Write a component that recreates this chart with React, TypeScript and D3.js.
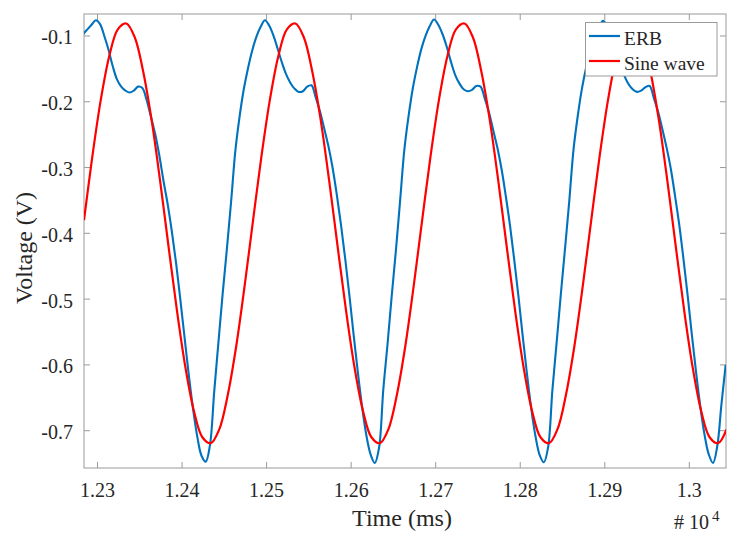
import React, { useRef, useEffect } from 'react';
import * as d3 from 'd3';

// ERB trace, sampled every 5 ms from 12283 ms
const erbStart = 12283;
const erbStep = 5;
const erbVolts = [
  -0.097, -0.090, -0.083, -0.076,
  -0.082, -0.100, -0.121, -0.146, -0.166, -0.177, -0.183, -0.186, -0.183, -0.177,
  -0.179, -0.197, -0.222, -0.248, -0.281, -0.320, -0.356, -0.398, -0.446, -0.501,
  -0.559, -0.616, -0.667, -0.709, -0.738, -0.747, -0.722, -0.641, -0.566, -0.492,
  -0.424, -0.352, -0.275, -0.223, -0.181, -0.149, -0.122, -0.101, -0.086, -0.076,
  -0.084, -0.099, -0.119, -0.140, -0.158, -0.171, -0.180, -0.185, -0.184, -0.177,
  -0.175, -0.193, -0.214, -0.240, -0.267, -0.300, -0.341, -0.387, -0.439, -0.495,
  -0.555, -0.612, -0.664, -0.707, -0.736, -0.749, -0.726, -0.638, -0.569, -0.495,
  -0.425, -0.349, -0.272, -0.221, -0.179, -0.147, -0.120, -0.100, -0.085, -0.075,
  -0.083, -0.097, -0.116, -0.139, -0.159, -0.172, -0.181, -0.184, -0.182, -0.176,
  -0.177, -0.195, -0.216, -0.243, -0.270, -0.303, -0.344, -0.389, -0.441, -0.497,
  -0.557, -0.614, -0.666, -0.708, -0.737, -0.748, -0.725, -0.639, -0.567, -0.493,
  -0.423, -0.351, -0.273, -0.222, -0.180, -0.148, -0.121, -0.101, -0.087, -0.077,
  -0.085, -0.099, -0.118, -0.141, -0.160, -0.173, -0.181, -0.185, -0.183, -0.178,
  -0.176, -0.194, -0.215, -0.241, -0.269, -0.301, -0.342, -0.386, -0.438, -0.494,
  -0.554, -0.611, -0.663, -0.706, -0.736, -0.749, -0.724, -0.660, -0.600,
];

// reference sine, sampled every 10 ms from 12284 ms
const sineStart = 12284;
const sineStep = 10;
const sineVolts = [
  -0.380, -0.282, -0.196, -0.130, -0.090, -0.081, -0.102, -0.154, -0.228, -0.320,
  -0.420, -0.518, -0.604, -0.670, -0.710, -0.719, -0.698, -0.646, -0.572, -0.480,
  -0.380, -0.282, -0.196, -0.130, -0.090, -0.081, -0.102, -0.154, -0.228, -0.320,
  -0.420, -0.518, -0.604, -0.670, -0.710, -0.719, -0.698, -0.646, -0.572, -0.480,
  -0.380, -0.282, -0.196, -0.130, -0.090, -0.081, -0.102, -0.154, -0.228, -0.320,
  -0.420, -0.518, -0.604, -0.670, -0.710, -0.719, -0.698, -0.646, -0.572, -0.480,
  -0.380, -0.282, -0.196, -0.130, -0.090, -0.081, -0.102, -0.154, -0.228, -0.320,
  -0.420, -0.518, -0.604, -0.670, -0.710, -0.719, -0.698,
];

const xTicks = [12300, 12400, 12500, 12600, 12700, 12800, 12900, 13000];
const yTicks = [-0.7, -0.6, -0.5, -0.4, -0.3, -0.2, -0.1];
const seriesNames = ['ERB', 'Sine wave'];
const seriesColors = ['#0072BD', '#FF0000'];

const App = () => {
  const svgRef = useRef<SVGSVGElement>(null);

  useEffect(() => {
    const svg = d3.select(svgRef.current);
    svg.selectAll('*').remove();

    const width = 741;
    const height = 540;
    const margin = { top: 14, right: 15, bottom: 72, left: 84 };
    const font = '"Liberation Serif", "Times New Roman", serif';
    const axisColor = '#9a9a9a';
    const textColor = '#262626';

    svg.attr('width', width).attr('height', height);

    const x = d3.scaleLinear()
      .domain([12284, 13043.4])
      .range([margin.left, width - margin.right]);

    const y = d3.scaleLinear()
      .domain([-0.7567, -0.0666])
      .range([height - margin.bottom, margin.top]);

    svg.append('defs').append('clipPath').attr('id', 'plot-clip')
      .append('rect')
      .attr('x', margin.left)
      .attr('y', margin.top)
      .attr('width', width - margin.left - margin.right)
      .attr('height', height - margin.top - margin.bottom);

    // box + inward ticks on all four sides
    const x0 = margin.left, x1 = width - margin.right;
    const y0 = margin.top, y1 = height - margin.bottom;
    const tick = 6;

    const frame = svg.append('g').attr('stroke', axisColor).attr('stroke-width', 1).attr('fill', 'none');
    frame.append('rect').attr('x', x0).attr('y', y0).attr('width', x1 - x0).attr('height', y1 - y0);

    xTicks.forEach(t => {
      frame.append('line').attr('x1', x(t)).attr('x2', x(t)).attr('y1', y1).attr('y2', y1 - tick);
      frame.append('line').attr('x1', x(t)).attr('x2', x(t)).attr('y1', y0).attr('y2', y0 + tick);
    });
    yTicks.forEach(v => {
      frame.append('line').attr('x1', x0).attr('x2', x0 + tick).attr('y1', y(v)).attr('y2', y(v));
      frame.append('line').attr('x1', x1).attr('x2', x1 - tick).attr('y1', y(v)).attr('y2', y(v));
    });

    // tick labels
    svg.append('g')
      .attr('font-family', font)
      .attr('font-size', 20)
      .attr('fill', textColor)
      .attr('text-anchor', 'middle')
      .selectAll('text')
      .data(xTicks)
      .join('text')
      .attr('x', d => x(d))
      .attr('y', y1 + 29)
      .text(d => String(+(d / 1e4).toFixed(2)));

    svg.append('g')
      .attr('font-family', font)
      .attr('font-size', 20)
      .attr('fill', textColor)
      .attr('text-anchor', 'end')
      .selectAll('text')
      .data(yTicks)
      .join('text')
      .attr('x', x0 - 11)
      .attr('y', d => y(d) + 8.5)
      .text(d => String(+d.toFixed(1)));

    // lines
    const plot = svg.append('g').attr('clip-path', 'url(#plot-clip)');

    const erbLine = d3.line<number>()
      .x((_, i) => x(erbStart + i * erbStep))
      .y(d => y(d))
      .curve(d3.curveCatmullRom);

    const sineLine = d3.line<number>()
      .x((_, i) => x(sineStart + i * sineStep))
      .y(d => y(d))
      .curve(d3.curveCatmullRom);

    plot.append('path')
      .datum(erbVolts)
      .attr('fill', 'none')
      .attr('stroke', seriesColors[0])
      .attr('stroke-width', 2.1)
      .attr('stroke-linejoin', 'round')
      .attr('d', erbLine);

    plot.append('path')
      .datum(sineVolts)
      .attr('fill', 'none')
      .attr('stroke', seriesColors[1])
      .attr('stroke-width', 2.2)
      .attr('d', sineLine);

    // axis titles
    svg.append('text')
      .attr('x', 402)
      .attr('y', 526)
      .attr('text-anchor', 'middle')
      .attr('font-family', font)
      .attr('font-size', 24)
      .attr('fill', textColor)
      .text('Time (ms)');

    svg.append('text')
      .attr('transform', `translate(32, 248) rotate(-90)`)
      .attr('text-anchor', 'middle')
      .attr('font-family', font)
      .attr('font-size', 24)
      .attr('fill', textColor)
      .text('Voltage (V)');

    // exponent label
    const expo = svg.append('text')
      .attr('x', 674)
      .attr('y', 529)
      .attr('font-family', font)
      .attr('font-size', 20)
      .attr('fill', textColor);
    expo.append('tspan').text('# 10');
    expo.append('tspan').attr('dx', 3).attr('dy', -8).attr('font-size', 15).text('4');

    // legend
    const legend = svg.append('g');
    legend.append('rect')
      .attr('x', 585.5).attr('y', 22.5)
      .attr('width', 131.5).attr('height', 53.5)
      .attr('fill', '#fff')
      .attr('stroke', axisColor);

    seriesNames.forEach((name, i) => {
      const ly = 36 + i * 25;
      legend.append('line')
        .attr('x1', 589).attr('x2', 620)
        .attr('y1', ly).attr('y2', ly)
        .attr('stroke', seriesColors[i])
        .attr('stroke-width', 2.2);
      legend.append('text')
        .attr('x', 624).attr('y', ly + 8.5)
        .attr('font-family', font)
        .attr('font-size', 19.5)
        .attr('fill', textColor)
        .text(name);
    });
  }, []);

  return <svg ref={svgRef} style={{ position: 'absolute', left: 0, top: 0 }}></svg>;
};

export default App;
